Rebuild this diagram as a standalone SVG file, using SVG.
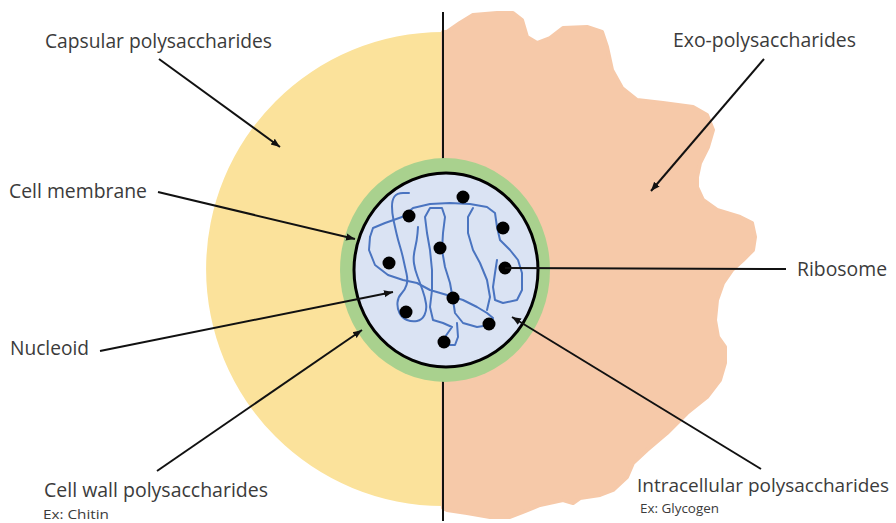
<svg xmlns="http://www.w3.org/2000/svg" width="896" height="523" viewBox="0 0 896 523">
  <style>
    .lbl { font-family: "Open Sans", "Noto Sans", "Liberation Sans", sans-serif; font-size: 20px; fill: #3b3b3b; }
    .sub { font-family: "Open Sans", "Noto Sans", "Liberation Sans", sans-serif; font-size: 13px; fill: #3b3b3b; }
    .lead { stroke: #111; stroke-width: 2; fill: none; }
    .dna { stroke: #4a74c0; stroke-width: 2; fill: none; stroke-linejoin: round; stroke-linecap: round; }
    .ribo { fill: #000; }
  </style>
  <defs>
    <marker id="ah" viewBox="0 0 10 10" refX="10" refY="5" markerWidth="9" markerHeight="9" markerUnits="userSpaceOnUse" orient="auto">
      <path d="M0,1 L10,5 L0,9 z" fill="#111"/>
    </marker>
  </defs>

  <rect width="896" height="523" fill="#ffffff"/>

  <!-- capsule: left half disc -->
  <g id="capsule">
    <path d="M443 32 A237 237 0 0 0 443 506 Z" fill="#fbe29b"/>
  </g>

  <!-- exo-polysaccharide slime layer: irregular right half -->
  <g id="exo-layer">
    <path fill="#f6c9a9" d="M443 32 L447 32 L460 23 L473 15 L497 13 L513 13 L522 20 L527 37 L537 43 L550 38 L563 28 L587 27 L602 32 L607 47 L612 70 L622 88 L637 100 L663 103 L693 107 L707 115 L713 130 L708 147 L700 163 L697 177 L697 187 L703 200 L717 210 L740 217 L752 223 L755 237 L753 250 L743 260 L732 270 L723 283 L717 300 L715 320 L718 337 L725 347 L725 363 L720 380 L707 397 L687 413 L667 433 L647 450 L633 463 L627 477 L613 490 L600 495 L580 498 L573 503 L563 500 L540 505 L523 512 L510 517 L490 517 L467 513 L447 510 L443 508 Z" stroke="#f6c9a9" stroke-width="4" stroke-linejoin="round"/>
  </g>

  <!-- dividing line -->
  <g id="divider">
    <line x1="443" y1="12" x2="443" y2="521" stroke="#111" stroke-width="2"/>
  </g>

  <!-- cell wall, membrane and cytoplasm -->
  <g id="cell-wall">
    <ellipse cx="445" cy="270" rx="105" ry="112" fill="#a9d18e"/>
  </g>
  <g id="membrane">
    <ellipse cx="446" cy="270" rx="92" ry="97" fill="#dae3f3" stroke="#000" stroke-width="3"/>
  </g>

  <!-- nucleoid DNA strands -->
  <g id="nucleoid">
    <path class="dna" d="M409,193 L403,193 Q397,193 394.5,196.5 Q392,200 392,206.5 Q392,213 393.5,220 Q395,227 396.5,233.5 Q398,240 400,246.5 Q402,253 403.5,260 Q405,267 406.5,273.5 Q408,280 406.5,285 Q405,290 401.5,293.5 Q398,297 397.5,302.5 Q397,308 399.5,313 Q402,318 407,320 Q412,322 417,321 Q422,320 424.5,315 Q427,310 426,303.5 Q425,297 422.5,290 Q420,283 417.5,276.5 Q415,270 414,263.5 Q413,257 415,248.5 Q417,240 417.5,233.5 L418,227"/>
    <polyline class="dna" points="370,237 373,228 385,223 402,217 413,208 430,204 450,203 470,204 487,207 495,213 497,227 500,240 510,250 518,260 522,273 522,290 517,300 503,303 495,300 493,287 495,273 497,260"/>
    <polyline class="dna" points="370,237 369,250 375,265 388,275 403,280 417,283 430,290 447,295 463,300 477,307 487,313 493,318 490,325 477,327 463,323 455,313 453,300 450,283 445,267 442,250 443,233 445,217 442,208 430,208 425,217 427,233 430,250 432,270 432,290 430,307 433,320 443,323 452,327 445,337 443,345 455,345 458,337 457,323"/>
    <polyline class="dna" points="473,208 468,217 468,233 473,250 480,263 487,280 490,297 487,310"/>
  </g>

  <!-- ribosomes -->
  <g id="ribosomes">
    <circle class="ribo" cx="463" cy="197" r="6.5"/>
    <circle class="ribo" cx="409" cy="216" r="6.5"/>
    <circle class="ribo" cx="503" cy="228" r="6.5"/>
    <circle class="ribo" cx="440" cy="248" r="6.5"/>
    <circle class="ribo" cx="389" cy="263" r="6.5"/>
    <circle class="ribo" cx="505" cy="268" r="6.5"/>
    <circle class="ribo" cx="453" cy="298" r="6.5"/>
    <circle class="ribo" cx="406" cy="312" r="6.5"/>
    <circle class="ribo" cx="489" cy="324" r="6.5"/>
    <circle class="ribo" cx="444" cy="342" r="6.5"/>
  </g>

  <!-- leader lines -->
  <g id="connectors">
    <line class="lead" x1="159" y1="59" x2="280" y2="147" marker-end="url(#ah)"/>
    <line class="lead" x1="764" y1="59" x2="651" y2="191" marker-end="url(#ah)"/>
    <line class="lead" x1="158" y1="192" x2="355" y2="239" marker-end="url(#ah)"/>
    <line class="lead" x1="100" y1="351" x2="393" y2="292" marker-end="url(#ah)"/>
    <line class="lead" x1="157" y1="471" x2="362" y2="330" marker-end="url(#ah)"/>
    <line class="lead" x1="761" y1="469" x2="512" y2="317" marker-end="url(#ah)"/>
    <line class="lead" x1="505" y1="268" x2="786" y2="269"/>
  </g>

  <!-- labels -->
  <g id="labels">
    <text class="lbl" x="45" y="48" textLength="227" lengthAdjust="spacingAndGlyphs">Capsular polysaccharides</text>
    <text class="lbl" x="673" y="47" textLength="183" lengthAdjust="spacingAndGlyphs">Exo-polysaccharides</text>
    <text class="lbl" x="9" y="198" textLength="138" lengthAdjust="spacingAndGlyphs">Cell membrane</text>
    <text class="lbl" x="10" y="355" textLength="79" lengthAdjust="spacingAndGlyphs">Nucleoid</text>
    <text class="lbl" x="797" y="276" textLength="90" lengthAdjust="spacingAndGlyphs">Ribosome</text>
    <text class="lbl" x="44" y="497" textLength="224" lengthAdjust="spacingAndGlyphs">Cell wall polysaccharides</text>
    <text class="sub" x="43" y="519" textLength="66" lengthAdjust="spacingAndGlyphs">Ex: Chitin</text>
    <text class="lbl" x="637" y="492" style="font-size:17.5px" textLength="252" lengthAdjust="spacingAndGlyphs">Intracellular polysaccharides</text>
    <text class="sub" x="640" y="513" textLength="79" lengthAdjust="spacingAndGlyphs">Ex: Glycogen</text>
  </g>
</svg>
